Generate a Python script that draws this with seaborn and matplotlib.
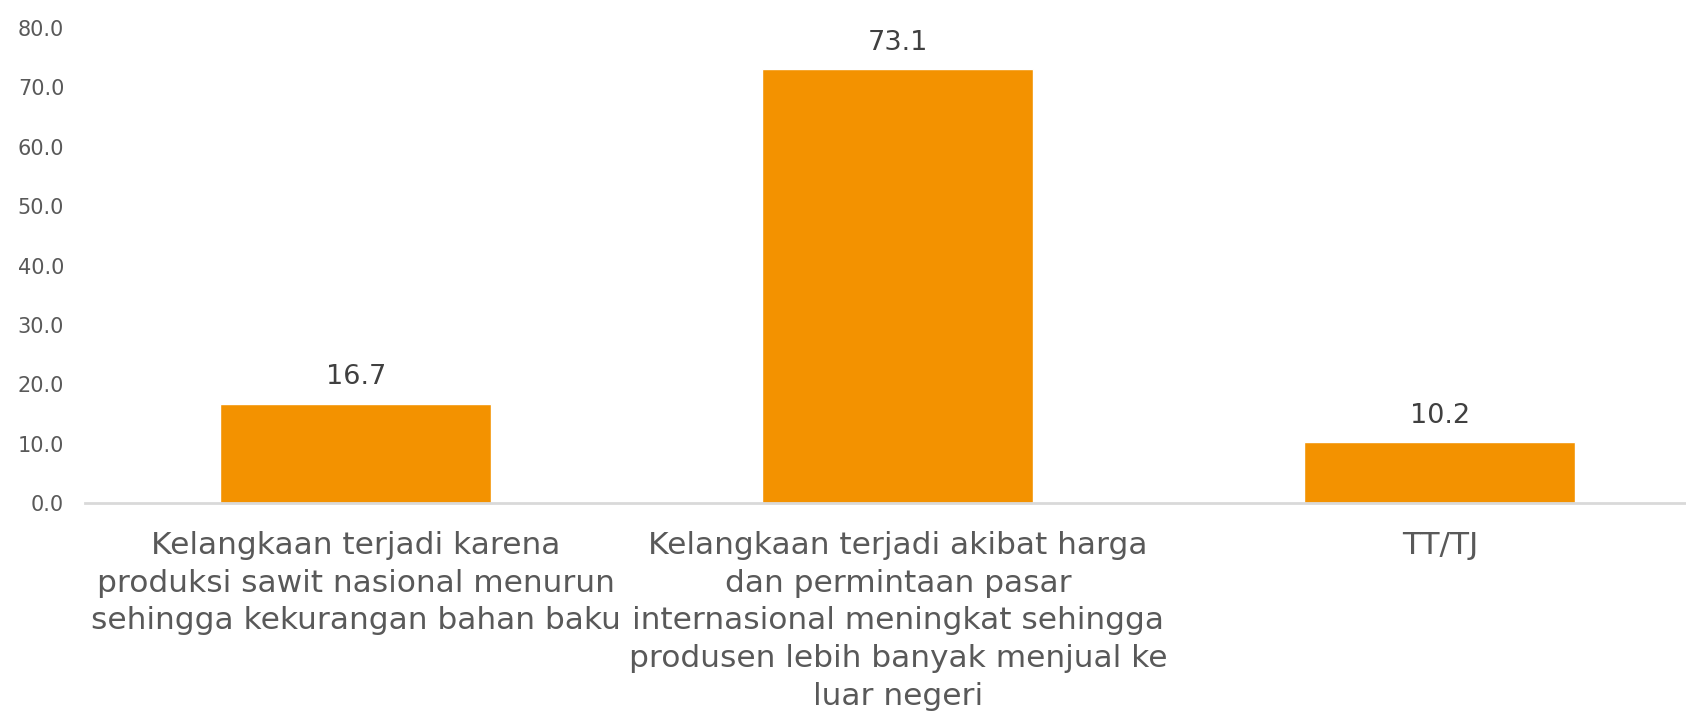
import matplotlib
matplotlib.use("Agg")
import matplotlib.pyplot as plt
import seaborn as sns
import pandas as pd

categories = [
    "Kelangkaan terjadi karena\nproduksi sawit nasional menurun\nsehingga kekurangan bahan baku",
    "Kelangkaan terjadi akibat harga\ndan permintaan pasar\ninternasional meningkat sehingga\nprodusen lebih banyak menjual ke\nluar negeri",
    "TT/TJ",
]
values = [16.7, 73.1, 10.2]
yticks = [0, 10, 20, 30, 40, 50, 60, 70, 80]

sns.set_theme(style="white")
plt.rcParams["font.family"] = ["DejaVu Sans"]

text_color = "#595959"
bar_color = "#F39200"

df = pd.DataFrame({"kategori": categories, "persen": values})

fig = plt.figure(figsize=(16.86, 7.17), dpi=100)
ax = fig.add_axes([85 / 1686, 214 / 717, 1626 / 1686, (503 - 28) / 717])

sns.barplot(data=df, x="kategori", y="persen", color=bar_color, width=0.5,
            saturation=1, ax=ax)

ax.set_xlim(-0.5, 2.5)
ax.set_ylim(0, 80)
ax.set_yticks(yticks)
ax.set_yticklabels([f"{v:.1f}" for v in yticks], fontsize=15, color=text_color)
ax.tick_params(axis="y", length=0, pad=15)
ax.tick_params(axis="x", length=0, pad=20)
for lbl in ax.get_xticklabels():
    lbl.set_fontsize(22.5)
    lbl.set_color(text_color)
    lbl.set_linespacing(1.38)
    lbl.set_verticalalignment("top")
ax.set_xlabel("")
ax.set_ylabel("")

for side in ["left", "right", "top"]:
    ax.spines[side].set_visible(False)
ax.spines["bottom"].set_color("#D9D9D9")
ax.spines["bottom"].set_linewidth(2)

for i, v in enumerate(values):
    ax.annotate(f"{v:.1f}", (i, v), xytext=(0, 19), textcoords="offset points",
                ha="center", va="center", fontsize=19.5, color="#404040")

fig.savefig("out.png", dpi=100)
